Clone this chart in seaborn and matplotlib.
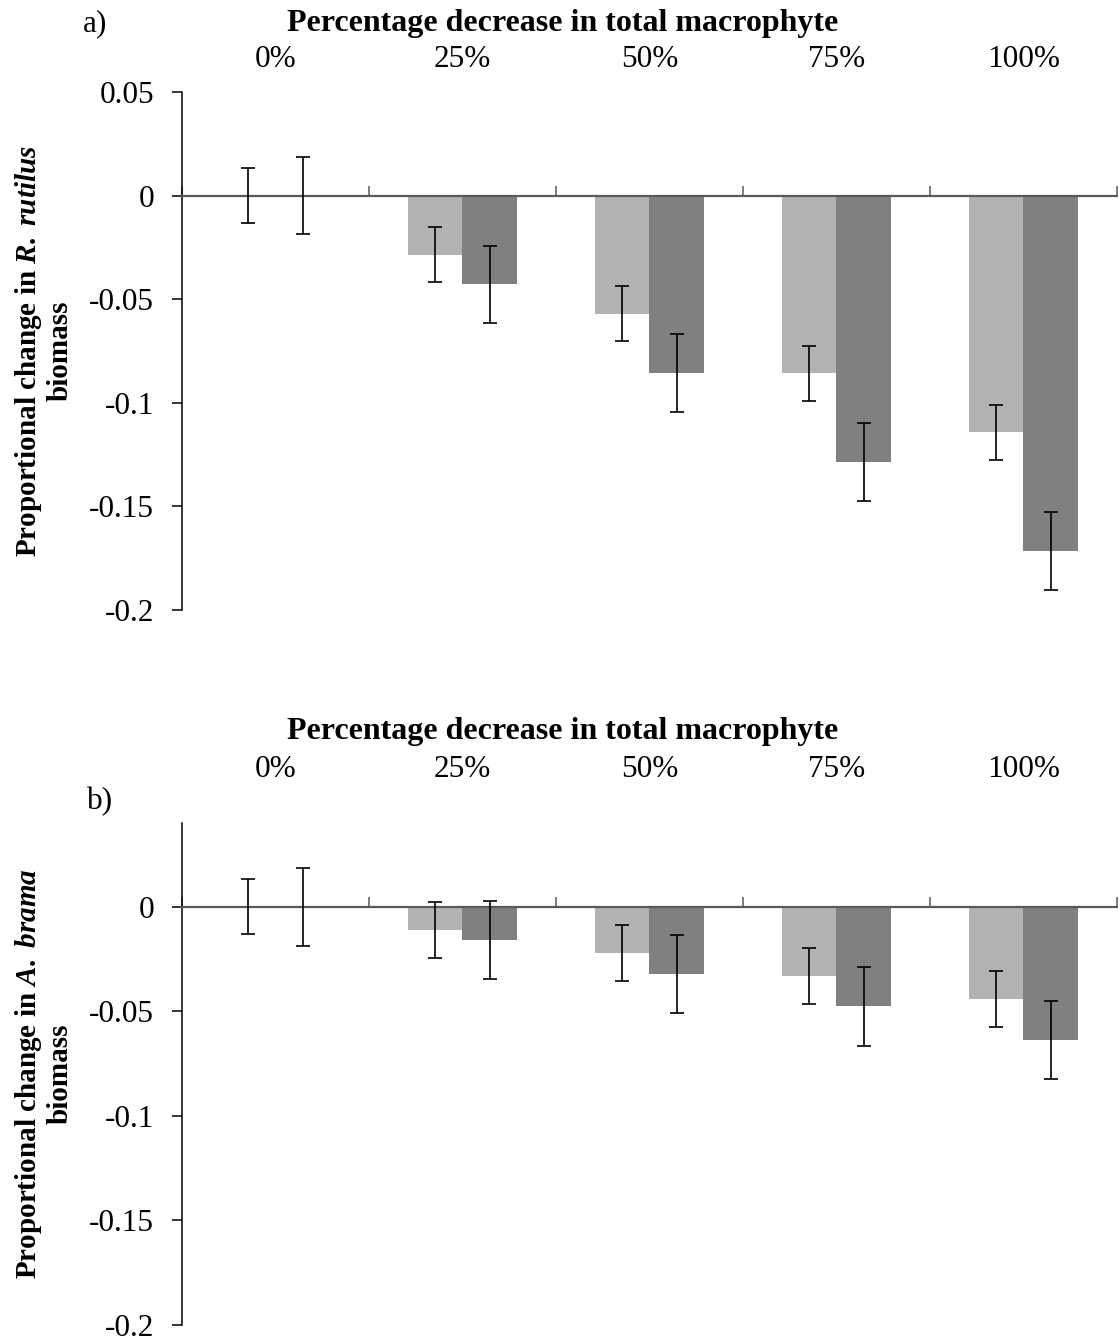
import pandas as pd
import numpy as np
import matplotlib
matplotlib.use('Agg')
import matplotlib.pyplot as plt
import seaborn as sns

# values
levels = ['0%', '25%', '50%', '75%', '100%']
series = ['light', 'dark']

rutilus_light = [0.0, -0.0286, -0.0571, -0.0857, -0.1143]
rutilus_dark = [0.0, -0.0429, -0.0857, -0.1286, -0.1716]
rutilus_light_err = [0.0133, 0.0133, 0.0133, 0.0133, 0.0133]
rutilus_dark_err = [0.0187, 0.0187, 0.0187, 0.0187, 0.0187]

brama_light = [0.0, -0.0112, -0.0222, -0.0330, -0.0440]
brama_dark = [0.0, -0.0160, -0.0320, -0.0477, -0.0636]
brama_light_err = [0.0132, 0.0133, 0.0133, 0.0133, 0.0133]
brama_dark_err = [0.0187, 0.0187, 0.0187, 0.0187, 0.0187]

yticks_a = [0.05, 0, -0.05, -0.1, -0.15, -0.2]
ylabels_a = ['0.05', '0', '-0.05', '-0.1', '-0.15', '-0.2']
yticks_b = [0, -0.05, -0.1, -0.15, -0.2]
ylabels_b = ['0', '-0.05', '-0.1', '-0.15', '-0.2']

LIGHT = '#b3b3b3'
DARK = '#808080'
AXIS_GREY = '#595959'
TICK_FS = 22.5
TITLE_FS = 23

sns.set_style('white')
plt.rcParams['font.family'] = ['Liberation Serif', 'DejaVu Serif']
plt.rcParams['text.color'] = 'black'
plt.rcParams['axes.labelcolor'] = 'black'
plt.rcParams['xtick.color'] = 'black'
plt.rcParams['ytick.color'] = 'black'
plt.rcParams['mathtext.fontset'] = 'custom'
plt.rcParams['mathtext.rm'] = 'Liberation Serif'
plt.rcParams['mathtext.it'] = 'Liberation Serif:italic'
plt.rcParams['mathtext.bf'] = 'Liberation Serif:bold'
plt.rcParams['mathtext.bfit'] = 'Liberation Serif:italic:bold'

fig = plt.figure(figsize=(11.2, 13.37), dpi=100)
ax_a = fig.add_axes([0.1625, 0.5438, 0.8348, 0.3874])
ax_b = fig.add_axes([0.1625, 0.0090, 0.8348, 0.3754])


def draw_panel(ax, light, dark, light_err, dark_err, ylim, yticks, ylabels,
               cat_pad, title_y):
    df = pd.DataFrame({
        'level': levels * 2,
        'change': light + dark,
        'series': ['light'] * len(levels) + ['dark'] * len(levels),
    })
    sns.barplot(data=df, x='level', y='change', hue='series', order=levels,
                hue_order=series, palette=[LIGHT, DARK], width=0.58,
                errorbar=None, saturation=1, linewidth=0, legend=False, ax=ax)

    # error bars on the centre of each bar
    for bars, errs in zip(ax.containers, [light_err, dark_err]):
        xs = [b.get_x() + b.get_width() / 2 for b in bars]
        ys = [b.get_y() + b.get_height() for b in bars]
        ax.errorbar(xs, ys, yerr=errs, fmt='none', ecolor='black',
                    elinewidth=1.2, capsize=5, capthick=1.2, zorder=4)

    ax.set_xlim(-0.5, len(levels) - 0.5)
    ax.set_ylim(*ylim)
    ax.set_xlabel('')
    ax.set_ylabel('')

    ax.spines[['top', 'right']].set_visible(False)
    ax.spines['bottom'].set_position(('data', 0))
    ax.spines['bottom'].set_color(AXIS_GREY)
    ax.spines['bottom'].set_linewidth(1.6)
    ax.spines['left'].set_color('black')
    ax.spines['left'].set_linewidth(1.1)

    # category boundaries get small upward ticks on the zero line
    bounds = np.arange(-0.5, len(levels), 1.0)
    ax.set_xticks(bounds, labels=[''] * len(bounds))
    ax.tick_params(axis='x', bottom=True, direction='in', length=7,
                   width=1.1, color=AXIS_GREY)
    ax.set_yticks(yticks, labels=ylabels)
    ax.tick_params(axis='y', left=True, direction='out', length=7, width=1.1,
                   color='black', labelsize=TICK_FS, pad=13)

    top = ax.secondary_xaxis('top')
    top.set_xticks(range(len(levels)), labels=levels)
    top.tick_params(length=0, pad=cat_pad, labelsize=TICK_FS)
    top.spines['top'].set_visible(False)

    ax.text(0.4075, title_y, 'Percentage decrease in total macrophyte',
            transform=ax.transAxes, ha='center', va='center',
            fontweight='bold', fontsize=TITLE_FS)


draw_panel(ax_a, rutilus_light, rutilus_dark, rutilus_light_err,
           rutilus_dark_err, (-0.2, 0.05), yticks_a, ylabels_a, 12.6, 1.132)
draw_panel(ax_b, brama_light, brama_dark, brama_light_err,
           brama_dark_err, (-0.2, 0.04), yticks_b, ylabels_b, 28.4, 1.182)

fig.text(0.0388, 1 - 351 / 1337,
         'Proportional change in $\\mathbfit{R.\\ rutilus}$\nbiomass',
         rotation=90, ha='center', va='center', fontsize=21,
         fontweight='bold', linespacing=1.15)
fig.text(0.0388, 1 - 1074 / 1337,
         'Proportional change in $\\mathbfit{A.\\ brama}$\nbiomass',
         rotation=90, ha='center', va='center', fontsize=21,
         fontweight='bold', linespacing=1.15)

fig.text(95 / 1120, 1 - 24 / 1337, 'a)', ha='center', va='center', fontsize=TICK_FS)
fig.text(100 / 1120, 1 - 802 / 1337, 'b)', ha='center', va='center', fontsize=TICK_FS)

fig.savefig('out.png', dpi=100)
